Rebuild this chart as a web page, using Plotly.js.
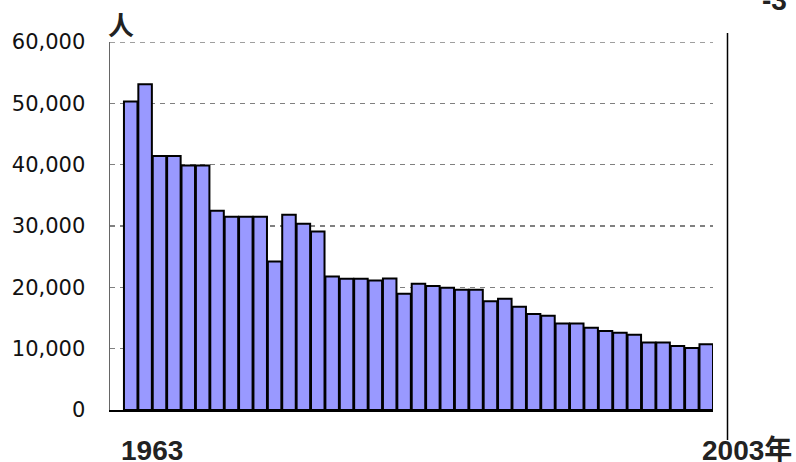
<!DOCTYPE html>
<html>
<head>
<meta charset="utf-8">
<script src="https://cdn.plot.ly/plotly-3.0.1.min.js"></script>
<style>html,body{margin:0;padding:0;background:#fff;}#chart{width:796px;height:462px;}</style>
</head>
<body>
<div id="chart"></div>
<script>
const years = [1963,1964,1965,1966,1967,1968,1969,1970,1971,1972,1973,1974,1975,1976,1977,1978,1979,1980,1981,1982,1983,1984,1985,1986,1987,1988,1989,1990,1991,1992,1993,1994,1995,1996,1997,1998,1999,2000,2001,2002,2003];
const people = [50300,53100,41400,41400,39850,39850,32500,31500,31500,31500,24200,31850,30350,29100,21750,21400,21400,21100,21450,18950,20600,20200,19950,19600,19600,17750,18150,16850,15650,15350,14100,14100,13400,12900,12600,12250,11000,11000,10450,10100,10700];
const yTicks = [0,10000,20000,30000,40000,50000,60000];
const yTickText = ['0','10,000','20,000','30,000','40,000','50,000','60,000'];
const unitLabel = '人';
const firstLabel = '1963';
const lastLabel = '2003年';
const cornerLabel = '-3';

const W = 796, H = 462, L = 110, R = 713, T = 42, B = 410;
const pw = R - L, ph = B - T;
const px = v => (v - L) / pw;
const py = v => (B - v) / ph;

const trace = {
  type: 'bar',
  x: years,
  y: people,
  marker: {color: '#9999ff', line: {color: '#000', width: 2}},
  hoverinfo: 'x+y'
};

const yMax = yTicks[yTicks.length - 1];

const layout = {
  width: W, height: H,
  margin: {l: L, r: W - R, t: T, b: H - B, pad: 0},
  paper_bgcolor: '#fff', plot_bgcolor: '#fff',
  showlegend: false,
  bargap: 0.06,
  xaxis: {
    range: [1961.56, 2003.47],
    showticklabels: false, ticks: '', showgrid: false, zeroline: false,
    showline: true, linecolor: '#000', linewidth: 2
  },
  yaxis: {
    range: [0, yMax],
    tickvals: yTicks, ticktext: yTickText,
    tickfont: {family: 'DejaVu Sans', size: 21, color: '#111'},
    ticks: '', ticklabelstandoff: 19,
    showgrid: true, gridcolor: '#808080', gridwidth: 1.5, griddash: '5px,5px',
    zeroline: false,
    showline: true, linecolor: '#666', linewidth: 1.5
  },
  shapes: [
    {type: 'line', xref: 'paper', yref: 'y', x0: 0, x1: 1, y0: yMax, y1: yMax,
     line: {color: '#808080', width: 1.5, dash: '5px,5px'}},
    {type: 'line', xref: 'paper', yref: 'paper',
     x0: px(727.5), x1: px(727.5), y0: py(440), y1: py(33),
     line: {color: '#000', width: 1.5}}
  ],
  annotations: [
    {xref: 'paper', yref: 'paper', x: px(121), y: py(23), text: '<b>' + unitLabel + '</b>', showarrow: false,
     xanchor: 'center', yanchor: 'middle',
     font: {family: 'Noto Sans CJK SC', size: 26, color: '#222'}},
    {xref: 'paper', yref: 'paper', x: px(152), y: py(450), text: '<b>' + firstLabel + '</b>', showarrow: false,
     xanchor: 'center', yanchor: 'middle',
     font: {family: 'Liberation Sans', size: 28, color: '#222'}},
    {xref: 'paper', yref: 'paper', x: px(700), y: py(450), text: '<b>' + lastLabel + '</b>', showarrow: false,
     xanchor: 'left', yanchor: 'middle',
     font: {family: 'Liberation Sans, Noto Sans CJK SC', size: 28, color: '#222'}},
    {xref: 'paper', yref: 'paper', x: px(760), y: py(1), text: '<b>' + cornerLabel + '</b>', showarrow: false,
     xanchor: 'left', yanchor: 'middle',
     font: {family: 'Liberation Sans', size: 28, color: '#222'}}
  ]
};

Plotly.newPlot('chart', [trace], layout, {displayModeBar: false, staticPlot: true});
</script>
</body>
</html>
